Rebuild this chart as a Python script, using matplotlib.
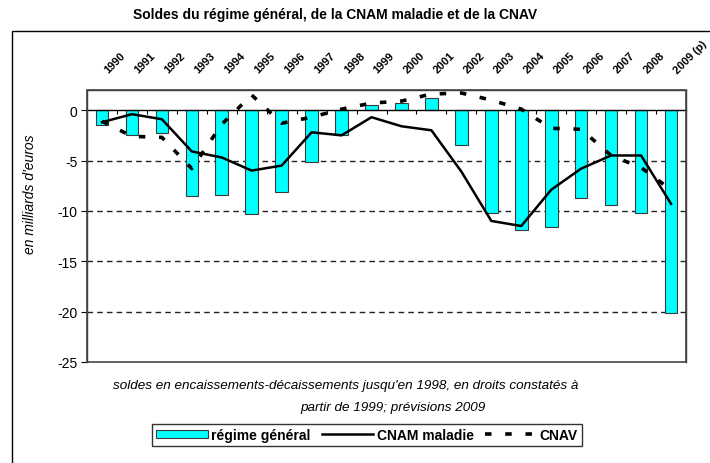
import matplotlib
matplotlib.use('Agg')
import matplotlib.pyplot as plt
from matplotlib.patches import Rectangle

plt.rcParams['font.family'] = ['Liberation Sans', 'DejaVu Sans']

years = ['1990', '1991', '1992', '1993', '1994', '1995', '1996', '1997', '1998', '1999',
         '2000', '2001', '2002', '2003', '2004', '2005', '2006', '2007', '2008', '2009 (p)']
regime_general = [-1.5, -2.5, -2.3, -8.5, -8.4, -10.3, -8.1, -5.1, -2.5, 0.5,
                  0.7, 1.2, -3.5, -10.2, -11.9, -11.6, -8.7, -9.4, -10.2, -20.1]
cnam_maladie = [-1.2, -0.4, -0.9, -4.1, -4.7, -6.0, -5.5, -2.2, -2.5, -0.7,
                -1.6, -2.0, -6.1, -11.0, -11.5, -7.9, -5.8, -4.5, -4.5, -9.3]
cnav = [-1.1, -2.6, -2.7, -5.8, -1.4, 1.5, -1.3, -0.7, 0.1, 0.7,
        0.9, 1.6, 1.7, 1.0, 0.1, -1.8, -1.9, -4.5, -5.7, -7.9]

x = list(range(len(years)))

fig = plt.figure(figsize=(7.10, 4.64), dpi=100)
ax = fig.add_axes([87/710, 1-363/464, 599/710, 272/464])

# outer chart frame (goes past the right and bottom edges like the original)
fig.patches.append(Rectangle((12/710, -0.5), 2.0, 0.5 + (1-32/464), transform=fig.transFigure,
                             fill=False, edgecolor='black', linewidth=1.0, zorder=0))

bars = ax.bar(x, regime_general, width=0.42, color='#00FFFF', edgecolor='#3a3a3a', linewidth=0.8,
              label='régime général', zorder=2)
l1, = ax.plot(x, cnam_maladie, color='black', linewidth=1.8, label='CNAM maladie', zorder=3)
l2, = ax.plot(x, cnav, color='black', linewidth=2.6, dashes=(1.8, 3.8), dash_capstyle='butt',
              label='CNAV', zorder=3)

ax.set_xlim(-0.5, len(years) - 0.5)
ax.set_ylim(-25, 2)
ax.set_yticks([0, -5, -10, -15, -20, -25])
ax.set_yticklabels(['0', '-5', '-10', '-15', '-20', '-25'], fontsize=10)
ax.tick_params(axis='y', direction='out', length=4, width=0.8, pad=3)

for v in [-5, -10, -15, -20]:
    ax.axhline(v, color='#222222', linewidth=1.0, dashes=(4, 3), zorder=1)

# category axis crosses at zero, ticks between categories
ax.spines['bottom'].set_position(('data', 0))
ax.spines['bottom'].set_linewidth(1.0)
ax.set_xticks([])
ax.set_xticks([i + 0.5 for i in x[:-1]], minor=True)
ax.tick_params(axis='x', which='minor', direction='out', length=3, width=0.8)
for s in ['left', 'right', 'top']:
    ax.spines[s].set_linewidth(1.0)
    ax.spines[s].set_color('#333333')
ax.add_patch(Rectangle((0, 0), 1, 1, transform=ax.transAxes, fill=False,
                       edgecolor='#444444', linewidth=1.2, zorder=5, clip_on=False))

for i, lbl in zip(x, years):
    ax.annotate(lbl, xy=(i, 1), xycoords=('data', 'axes fraction'), xytext=(5.5, 11),
                textcoords='offset points', rotation=45, rotation_mode='anchor',
                ha='left', va='bottom', fontsize=8, fontweight='bold', annotation_clip=False)

fig.text(335/710, 1-15/464, 'Soldes du régime général, de la CNAM maladie et de la CNAV',
         ha='center', va='center', fontsize=10, fontweight='bold')
fig.text(30/710, 1-194/464, "en milliards d'euros", rotation=90, ha='center', va='center',
         fontsize=10, style='italic')
fig.text(346/710, 1-386/464,
         'soldes en encaissements-décaissements jusqu\'en 1998, en droits constatés à',
         ha='center', va='center', fontsize=9.7, style='italic')
fig.text(393/710, 1-408/464, 'partir de 1999; prévisions 2009',
         ha='center', va='center', fontsize=9.7, style='italic')

leg = fig.legend([bars, l1, l2], ['régime général', 'CNAM maladie', 'CNAV'],
                 loc='center', bbox_to_anchor=(367/710, 1-436/464), ncol=3,
                 prop={'size': 10, 'weight': 'bold'}, frameon=True, fancybox=False,
                 handlelength=3.7, handletextpad=0.25, columnspacing=0.8,
                 borderpad=0.3, handleheight=0.55, borderaxespad=0)
leg.get_frame().set_edgecolor('black')
leg.get_frame().set_linewidth(1.0)

fig.savefig('out.png', dpi=100)
